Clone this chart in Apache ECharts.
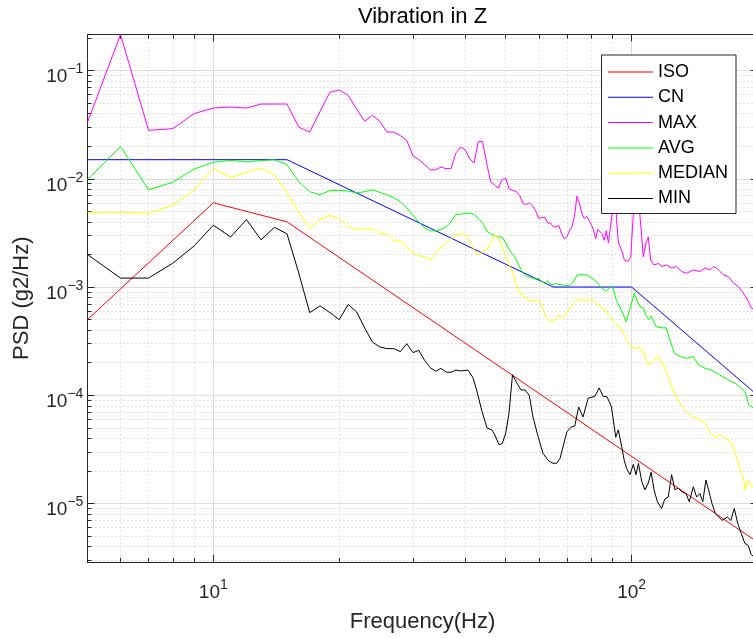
<!DOCTYPE html>
<html>
<head>
<meta charset="utf-8">
<script src="https://cdn.jsdelivr.net/npm/echarts@6/dist/echarts.min.js"></script>
<style>html,body{margin:0;padding:0;background:#fff}#chart{width:753px;height:638px}</style>
</head>
<body>
<div id="chart"></div>
<script>
// ---------- data ----------
const titleText = 'Vibration in Z';
const xName = 'Frequency(Hz)';
const yName = 'PSD (g2/Hz)';
const seriesNames = ['ISO', 'CN', 'MAX', 'AVG', 'MEDIAN', 'MIN'];
const seriesColors = ['#ff0000', '#0000ff', '#ff00ff', '#00ff00', '#ffff00', '#000000'];
const xMin = 5, xMax = 200;
const yMin = 2.9e-6, yMax = 0.215;

const isoFreq = [5, 10, 15, 200];
const isoPsd  = [5e-4, 6e-3, 4e-3, 4.4e-6];

const cnFreq = [5, 15, 65, 100, 200];
const cnPsd  = [0.015, 0.015, 1e-3, 1e-3, 1e-4];

const maxFreq = [5,6,7,8,9,10,11,12,13,14,15,16,17,18,19,20,21,22,23,24,25,26,27,28,29,30,
  31,32,33,34,35,36,37,38,39,40,41,42,43,44,45,46,47,48,49,50,51,52,53,54,55,56,57,58,59,60,
  61,62,63,64,65,66,67,68,69,70,71,72,73,74,75,76,77,78,79.5,81,82,83,85,86,87,88,90,91,92,93,
  95,96,98,99.5,101,102.5,104.7,105.7,106.6,108.2,109.6,111,113,116,118,121,124.6,128,131.7,
  135.3,140.4,145.6,149.7,153.8,156.7,159.6,162.6,165.6,170.2,175,179.8,184.8,188.4,193.2,200];
const maxPsd = [0.033,0.215,0.028,0.029,0.040,0.045,0.046,0.045,0.049,0.049,0.049,0.030,0.027,0.042,
  0.063,0.066,0.059,0.044,0.034,0.0385,0.034,0.027,0.027,0.025,0.0226,0.0163,
  0.015,0.0135,0.0121,0.0121,0.0128,0.0124,0.0124,0.0173,0.0196,0.0185,0.0153,0.014,0.0221,0.0221,
  0.014,0.0094,0.0088,0.0082,0.0098,0.0101,0.0080,0.0078,0.0076,0.0070,0.0059,0.0058,0.0060,0.0056,
  0.0050,0.0043,0.0044,0.0044,0.0039,0.0039,0.0036,0.0036,0.0037,0.0031,0.0028,0.0029,0.0033,0.0036,
  0.0045,0.0069,0.0060,0.0048,0.0043,0.0045,0.0040,0.0034,0.0028,0.0034,0.0031,0.0027,0.0033,0.00255,
  0.005,0.011,0.0042,0.00255,0.0021,0.00178,0.00172,0.0019,0.005,0.013,0.0045,0.0029,0.0019,0.00255,
  0.0029,0.00178,0.0016,0.00165,0.00155,0.0016,0.0015,0.00155,0.00139,0.00134,0.00144,0.00139,0.0015,
  0.00144,0.00155,0.0015,0.00139,0.0013,0.00125,0.00109,0.00101,0.00088,0.00079,0.00064,0.0006];

const avgFreq = [5,6,7,8,9,10,11,12,13,14,15,16,17,18,19,20,21,22,23,24,25,26,27,28,29,30,
  31,32,33,34,35,36,37,38,39,40,41,42,43,44,45,46,47,48,49,50,51,52,53,54,55,56,57,58,59,60,
  61,62,63,64,65,66,67,68,69,70,71,72,73,74,75,76,77,78,80,81.5,83,85,87,89.5,90.5,92,94,97,99,
  101.5,103,104.7,106.7,108.2,110,111.3,114.4,118,121,123.4,126.5,130.5,135.3,140.4,144.4,149.7,
  155.2,159.6,165.6,170.2,176.8,181.4,186.6,190.4,195.4,200];
const avgPsd = [0.0098,0.0199,0.0079,0.0093,0.0123,0.0142,0.0148,0.0143,0.0147,0.0150,0.0135,0.0094,
  0.0076,0.0071,0.0078,0.0078,0.0077,0.0074,0.0076,0.0079,0.0075,0.0071,0.0067,0.0061,0.0054,0.0046,
  0.0040,0.0035,0.0033,0.0033,0.0034,0.0036,0.0040,0.0047,0.0047,0.0048,0.0048,0.0047,0.0043,0.0039,
  0.0033,0.0031,0.0030,0.0029,0.0029,0.00255,0.0022,0.0020,0.00178,0.00153,0.00134,0.00125,0.00123,
  0.00121,0.00118,0.00121,0.00112,0.00108,0.00114,0.00106,0.00105,0.00108,0.00105,0.00106,0.00103,
  0.00103,0.00103,0.00108,0.00116,0.00129,0.0013,0.0013,0.0013,0.0013,0.00122,0.00117,0.00108,0.00097,
  0.00092,0.00102,0.00094,0.00075,0.00064,0.00048,0.00062,0.00088,0.00075,0.00066,0.00064,0.00055,
  0.0005,0.00054,0.00043,0.00042,0.00042,0.000325,0.000245,0.000228,0.00022,0.000228,0.000191,0.000178,
  0.000171,0.00016,0.000148,0.000139,0.000129,0.00012,0.000108,8.2e-5,7.6e-5,7.4e-5];

const medFreq = [5,6,7,8,9,10,11,12,13,14,15,16,17,18,19,20,21,22,23,24,25,26,27,28,29,30,
  31,32,33,34,35,36,37,38,39,40,41,42,43,44,45,46,47,48,49,50,51,52,53,54,55,56,57,58,59,60,
  61,62,63,64,65,66,67,68,69,70,71,72,73,74,75,76,77,78,81,84,86.3,88.7,91.2,93.8,96.4,99.1,
  101.8,104.7,106.6,109.6,112.6,115.8,119,122.3,125.7,129.2,132.8,136.6,140.4,144.3,149.7,153.8,
  158.2,162.6,168.7,173.4,178.2,181.5,184.8,186.6,190,193.6,200];
const medPsd = [0.0049,0.0049,0.0048,0.0057,0.0079,0.0125,0.0103,0.0114,0.0126,0.0109,0.0074,0.0050,
  0.00345,0.0042,0.0046,0.0043,0.0036,0.00343,0.00343,0.0035,0.0031,0.0031,0.00267,0.00267,0.0023,
  0.00209,0.00195,0.0019,0.00178,0.00206,0.00232,0.00255,0.0028,0.00304,0.0031,0.0031,0.00263,0.0022,
  0.00198,0.0021,0.0022,0.00255,0.00304,0.00283,0.00237,0.0019,0.0016,0.00134,0.00108,0.00088,0.00083,
  0.00079,0.00076,0.00073,0.00076,0.00075,0.00068,0.00055,0.0005,0.00048,0.00049,0.00051,0.00055,
  0.00052,0.00054,0.00058,0.00063,0.00067,0.00073,0.00076,0.00077,0.00076,0.00073,0.00076,0.00076,
  0.00066,0.00062,0.00053,0.00046,0.00043,0.00035,0.00029,0.00027,0.00028,0.00025,0.00019,0.00021,
  0.00023,0.00019,0.000148,0.000112,9.1e-5,7.6e-5,6.8e-5,6.3e-5,6.1e-5,5.5e-5,4.6e-5,4.1e-5,4.3e-5,
  4.0e-5,3.6e-5,2.7e-5,2.05e-5,1.78e-5,1.34e-5,1.65e-5,1.43e-5,1.35e-5];

const minFreq = [5,6,7,8,9,10,11,12,13,14,15,16,17,18,19,20,21,22,23,24,25,26,27,28,29,30,
  31,32,33,34,35,36,37,38,39,40.6,41.7,42.6,43.8,45.1,46.3,47.1,48.2,49.1,50,50.9,51.9,53.2,54.4,
  55.6,56.9,58.1,59.8,61.4,63.2,64.5,66.1,67.4,68.6,70,71.7,73.1,74.7,76.5,78.7,81.7,83.6,85.5,
  87.3,89.4,90.2,91.6,92.9,94.6,96,97.3,99.1,100.9,102.4,103.8,105.7,107.6,109.6,111.3,113.1,
  115.2,117.9,120,122.3,124.6,126.9,129.2,131.7,134.8,137.3,140.4,143,145.6,147.9,150.5,152.7,
  155.6,158.5,161.5,164.6,169.3,172.6,175.9,179.4,182.8,186.4,190,192.9,196.3,200];
const minPsd = [0.002,0.00121,0.00121,0.00166,0.0024,0.00373,0.0029,0.0042,0.00273,0.00356,0.0031,
  0.00135,0.00058,0.00067,0.00058,0.0005,0.00069,0.00059,0.00042,0.00031,0.00028,0.00027,0.00027,
  0.000253,0.0003,0.000248,0.00026,0.00021,0.00018,0.000167,0.000177,0.000164,0.000163,0.000171,
  0.000168,0.000171,0.000147,0.000112,7.3e-5,5.0e-5,4.8e-5,4.3e-5,3.5e-5,3.6e-5,4.5e-5,6.8e-5,
  0.000155,0.000129,0.000112,0.000112,0.0001,6.3e-5,4.1e-5,2.9e-5,2.5e-5,2.37e-5,2.35e-5,2.6e-5,
  3.4e-5,4.6e-5,5.1e-5,5.2e-5,7.8e-5,6.3e-5,9.4e-5,9.8e-5,0.000117,9.8e-5,9.7e-5,7.9e-5,6.3e-5,
  4.1e-5,4.8e-5,3.4e-5,2.5e-5,2.1e-5,1.85e-5,2.3e-5,1.85e-5,2.35e-5,1.6e-5,1.34e-5,1.55e-5,1.95e-5,
  1.34e-5,1.04e-5,9.0e-6,1.1e-5,1.15e-5,1.85e-5,1.34e-5,1.39e-5,1.29e-5,1.24e-5,1.04e-5,1.43e-5,
  1.15e-5,1.24e-5,1.04e-5,1.65e-5,1.34e-5,1.0e-5,8.1e-6,7.5e-6,7.0e-6,7.5e-6,7.0e-6,9.0e-6,6.5e-6,
  5.3e-6,4.3e-6,4.1e-6,3.4e-6,3.2e-6,3.0e-6];

// ---------- chart ----------
const FONT = "'Liberation Sans', Arial, Helvetica, sans-serif";
const AXC = '#262626';
const zip = (xs, ys) => xs.map((x, i) => [x, ys[i]]);
const seriesData = [
  zip(isoFreq, isoPsd), zip(cnFreq, cnPsd), zip(maxFreq, maxPsd),
  zip(avgFreq, avgPsd), zip(medFreq, medPsd), zip(minFreq, minPsd)
];

function powLabel(v) {
  const e = Math.log10(v);
  const r = Math.round(e);
  if (Math.abs(e - r) > 1e-6) return '';
  return '{b|10}{s|' + String(r).replace('-', '\u2212') + '}';
}
const rich = {
  b: { fontSize: 19, lineHeight: 24, verticalAlign: 'bottom', fontFamily: FONT, color: AXC },
  s: { fontSize: 14, lineHeight: 13, verticalAlign: 'top', fontFamily: FONT, color: AXC }
};

function logAxis(extra) {
  return Object.assign({
    type: 'log', logBase: 10, gridIndex: 0,
    axisLine: { show: true, onZero: false, lineStyle: { color: AXC, width: 1 } },
    axisTick: { show: true, inside: true, length: 7, lineStyle: { color: AXC, width: 1 } },
    minorTick: { show: true, splitNumber: 9, length: 4, lineStyle: { color: AXC, width: 1 } },
    axisLabel: { show: false },
    splitLine: { show: false },
    minorSplitLine: { show: false }
  }, extra);
}

const option = {
  animation: false,
  backgroundColor: '#ffffff',
  title: {
    text: titleText, left: 422.5, textAlign: 'center', top: 6, padding: 0,
    textStyle: { fontSize: 22, fontWeight: 'normal', fontFamily: FONT, color: '#000' }
  },
  grid: { left: 87.4, top: 34.5, width: 670.2, height: 527.3, containLabel: false, outerBoundsMode: 'none' },
  legend: {
    orient: 'vertical', left: 601.5, top: 55,
    padding: [8, 8, 6, 6.5], itemWidth: 45, itemHeight: 1, itemGap: 7.3,
    icon: 'rect',
    backgroundColor: '#ffffff', borderColor: AXC, borderWidth: 1, borderRadius: 0,
    textStyle: { fontSize: 18, fontFamily: FONT, color: '#000' },
    data: seriesNames
  },
  xAxis: [
    logAxis({
      min: xMin, max: xMax, position: 'bottom',
      axisLabel: { show: true, formatter: powLabel, rich: rich, margin: 16, showMinLabel: false, showMaxLabel: false },
      splitLine: { show: true, lineStyle: { color: '#dcdcdc', width: 1 } },
      minorSplitLine: { show: true, lineStyle: { color: '#c4c4c4', width: 1, type: [1, 3] } },
      name: xName, nameLocation: 'middle', nameGap: 49,
      nameTextStyle: { fontSize: 22, fontFamily: FONT, color: AXC }
    }),
    logAxis({ min: xMin, max: xMax, position: 'top' })
  ],
  yAxis: [
    logAxis({
      min: yMin, max: yMax, position: 'left',
      axisLabel: { show: true, formatter: powLabel, rich: rich, margin: 4, padding: [8, 0, 0, 0], showMinLabel: false, showMaxLabel: false },
      splitLine: { show: true, lineStyle: { color: '#dcdcdc', width: 1 } },
      minorSplitLine: { show: true, lineStyle: { color: '#c4c4c4', width: 1, type: [1, 3] } },
      name: yName, nameLocation: 'middle', nameGap: 54,
      nameTextStyle: { fontSize: 22, fontFamily: FONT, color: AXC }
    }),
    logAxis({ min: yMin, max: yMax, position: 'right' })
  ],
  series: seriesNames.map((n, i) => ({
    name: n, type: 'line', xAxisIndex: 0, yAxisIndex: 0,
    data: seriesData[i], symbol: 'none', showSymbol: false, smooth: false,
    color: seriesColors[i],
    itemStyle: { color: seriesColors[i] },
    lineStyle: { color: seriesColors[i], width: 1 },
    emphasis: { disabled: true }, silent: true
  }))
};

const chart = echarts.init(document.getElementById('chart'), null, { renderer: 'canvas' });
chart.setOption(option);
</script>
</body>
</html>
